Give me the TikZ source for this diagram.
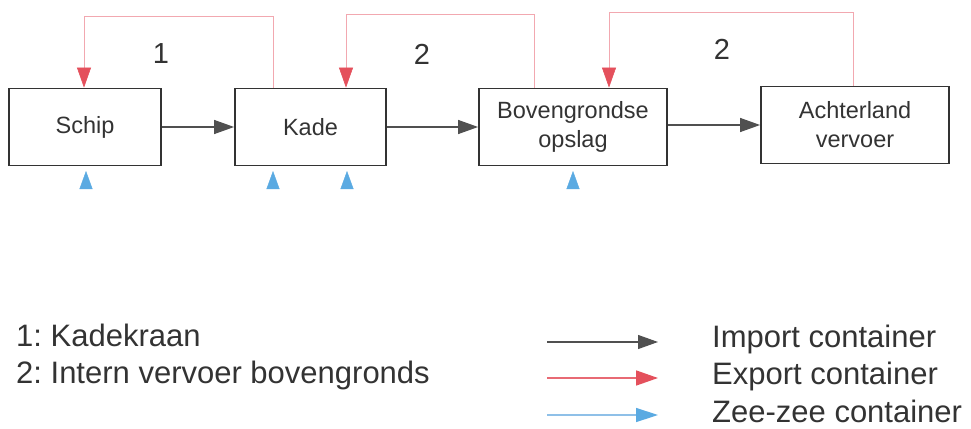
\documentclass[tikz,border=0pt]{standalone}
\usepackage{fontspec}
\setmainfont{Liberation Sans}
\usetikzlibrary{arrows.meta}
\definecolor{ink}{HTML}{333333}
\definecolor{imp}{HTML}{505050}
\definecolor{expline}{HTML}{F2A8B0}
\definecolor{exphead}{HTML}{E4505C}
\definecolor{zee}{HTML}{5AAAE2}
\definecolor{zeeline}{HTML}{8FC0E8}
\frenchspacing
\begin{document}
\begin{tikzpicture}[x=1pt,y=-1pt,
  stage/.style={draw=ink,line width=1.8pt,text=ink,inner sep=0pt,
    minimum height=77pt,align=center,font=\fontsize{23.5}{29}\selectfont},
  crane/.style={text=ink,inner sep=0pt,font=\fontsize{29}{29}\selectfont},
  legendtext/.style={text=ink,inner sep=0pt,anchor=base west,font=\fontsize{31}{35}\selectfont},
  importflow/.style={draw=imp,line width=1.2pt,-{Triangle[length=20pt,width=14pt,color=imp]}},
  exportflow/.style={draw=expline,line width=0.6pt,-{Triangle[length=20pt,width=14pt,color=exphead]}},
  exportkey/.style={draw=exphead!85,line width=1.6pt,-{Triangle[length=22pt,width=15pt,color=exphead]}},
  zeeflow/.style={draw=zee,line width=0.4pt,shorten >=4.6pt,-{Triangle[length=18pt,width=13pt,color=zee]}},
  zeekey/.style={draw=zeeline,line width=1.4pt,-{Triangle[length=22pt,width=14pt,color=zee]}}]
\useasboundingbox (0,0) rectangle (971,428);

% stages of the container flow
\node[stage,minimum width=152pt] (schip) at (85,127) {Schip};
\node[stage,minimum width=151pt] (kade) at (310.5,127) {Kade};
\node[stage,minimum width=188pt] (opslag) at (573,127) {Bovengrondse\\opslag};
\node[stage,minimum width=188pt] (achter) at (855,125) {Achterland\\vervoer};

% import flow
\draw[importflow] (schip) -- (kade);
\draw[importflow] (kade) -- (opslag);
\draw[importflow] (opslag.east |- achter.west) -- (achter);

% export flow, routed over the top
\coordinate (e1a) at (273,16);
\coordinate (e1b) at (84,16);
\coordinate (e2a) at (534,14);
\coordinate (e2b) at (346,14);
\coordinate (e3a) at (853,12);
\coordinate (e3b) at (609,12);
\draw[exportflow] (kade.north -| e1a) -- (e1a) -- (e1b) -- (schip.north -| e1b);
\draw[exportflow] (opslag.north -| e2a) -- (e2a) -- (e2b) -- (kade.north -| e2b);
\draw[exportflow] (achter.north -| e3a) -- (e3a) -- (e3b) -- (opslag.north -| e3b);

% transport modes
\node[crane] (n1) at (161,54) {1};
\node[crane] (n2) at (422,54) {2};
\node[crane] (n3) at (722,49) {2};

% sea-to-sea transfers from below
\coordinate (z1) at (86,188);
\coordinate (z2) at (273,188);
\coordinate (z3) at (347,188);
\coordinate (z4) at (573,188);
\draw[zeeflow] (z1) -- (schip.south -| z1);
\draw[zeeflow] (z2) -- (kade.south -| z2);
\draw[zeeflow] (z3) -- (kade.south -| z3);
\draw[zeeflow] (z4) -- (opslag.south -| z4);

% legend
\node[legendtext] (k1) at (16,346) {1: Kadekraan};
\node[legendtext] (k2) at (16,383) {2: Intern vervoer bovengronds};

\coordinate (l1a) at (547,342);
\coordinate (l1b) at (658,342);
\coordinate (l2a) at (547,378);
\coordinate (l2b) at (658,378);
\coordinate (l3a) at (547,415);
\coordinate (l3b) at (658,415);
\draw[importflow] (l1a) -- (l1b);
\draw[exportkey] (l2a) -- (l2b);
\draw[zeekey] (l3a) -- (l3b);
\node[legendtext] (t1) at (712,347) {Import container};
\node[legendtext] (t2) at (712,384) {Export container};
\node[legendtext] (t3) at (712,422) {Zee-zee container};
\end{tikzpicture}
\end{document}
